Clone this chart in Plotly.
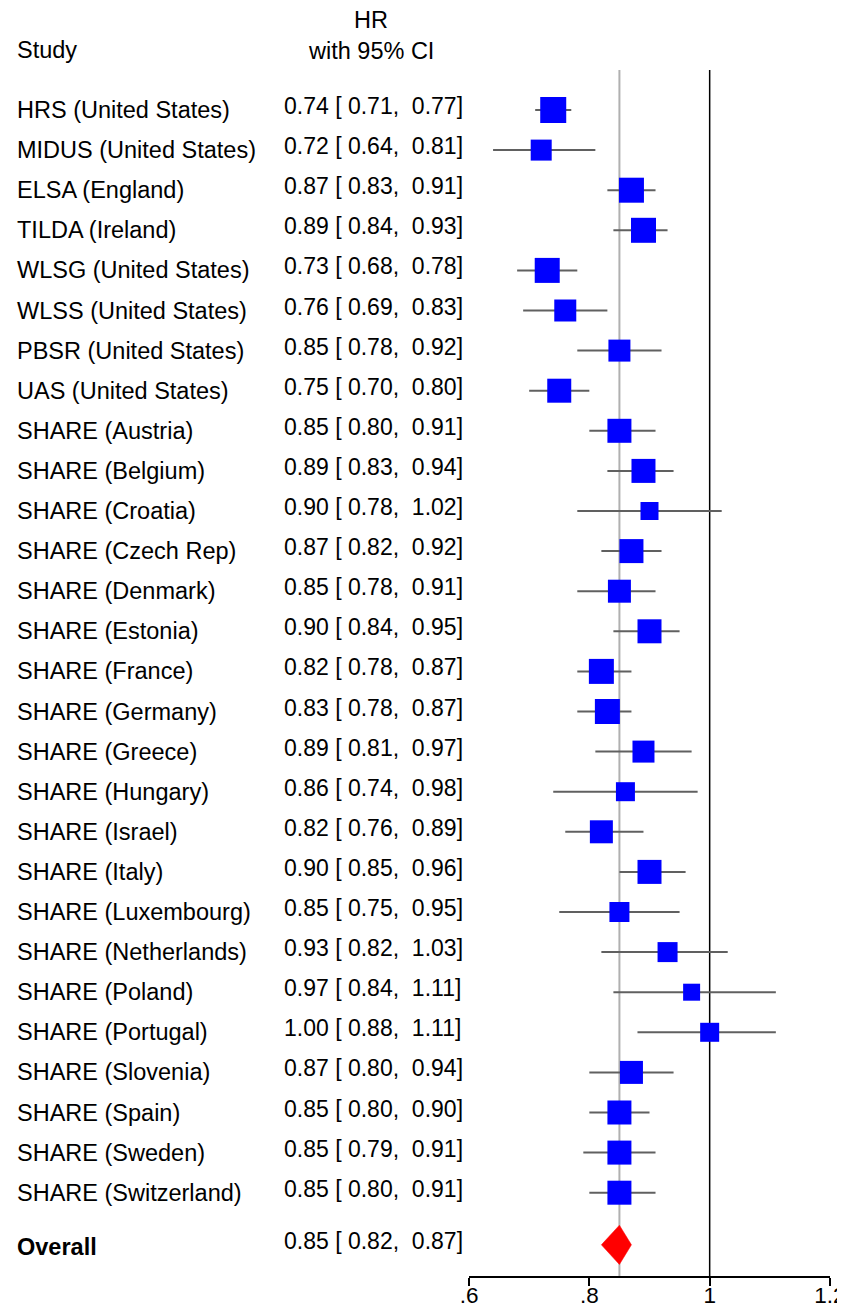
import plotly.graph_objects as go

studies = ["HRS (United States)", "MIDUS (United States)", "ELSA (England)", "TILDA (Ireland)",
           "WLSG (United States)", "WLSS (United States)", "PBSR (United States)", "UAS (United States)",
           "SHARE (Austria)", "SHARE (Belgium)", "SHARE (Croatia)", "SHARE (Czech Rep)",
           "SHARE (Denmark)", "SHARE (Estonia)", "SHARE (France)", "SHARE (Germany)",
           "SHARE (Greece)", "SHARE (Hungary)", "SHARE (Israel)", "SHARE (Italy)",
           "SHARE (Luxembourg)", "SHARE (Netherlands)", "SHARE (Poland)", "SHARE (Portugal)",
           "SHARE (Slovenia)", "SHARE (Spain)", "SHARE (Sweden)", "SHARE (Switzerland)"]
hr = [0.74, 0.72, 0.87, 0.89, 0.73, 0.76, 0.85, 0.75, 0.85, 0.89, 0.90, 0.87, 0.85, 0.90,
      0.82, 0.83, 0.89, 0.86, 0.82, 0.90, 0.85, 0.93, 0.97, 1.00, 0.87, 0.85, 0.85, 0.85]
lower = [0.71, 0.64, 0.83, 0.84, 0.68, 0.69, 0.78, 0.70, 0.80, 0.83, 0.78, 0.82, 0.78, 0.84,
         0.78, 0.78, 0.81, 0.74, 0.76, 0.85, 0.75, 0.82, 0.84, 0.88, 0.80, 0.80, 0.79, 0.80]
upper = [0.77, 0.81, 0.91, 0.93, 0.78, 0.83, 0.92, 0.80, 0.91, 0.94, 1.02, 0.92, 0.91, 0.95,
         0.87, 0.87, 0.97, 0.98, 0.89, 0.96, 0.95, 1.03, 1.11, 1.11, 0.94, 0.90, 0.91, 0.91]
# marker (weight) sizes in px
weights = [26, 21, 25, 25, 25, 22, 22, 24, 24, 24, 18, 24, 23, 24, 25, 25, 22, 19, 23, 24,
           20, 20, 17, 19, 23, 24, 24, 24]
overall_label = "Overall"
overall_hr, overall_lo, overall_hi = 0.85, 0.82, 0.87

tick_vals = [0.6, 0.8, 1.0, 1.2]
tick_text = [".6", ".8", "1", "1.2"]

OFF = 8                      # page body margin
W, H = 845, 1309 - OFF
FONT = "Liberation Sans, Arial, sans-serif"
FS = 23.5
FS_VAL = 23


def px_x(p):
    return (p - OFF) / W


def px_y(p):
    return 1 - (p - OFF) / H


n = len(studies)
rows = list(range(n))
overall_row = n + 0.3


def fmt(e, l, u):
    s = f"{e:.2f} [{l:5.2f}, {u:5.2f}]"
    return s.replace(" ", "\u00a0")


fig = go.Figure()

# CI lines
cx, cy = [], []
for r, l, u in zip(rows, lower, upper):
    cx += [l, u, None]
    cy += [r, r, None]
fig.add_trace(go.Scatter(x=cx, y=cy, mode="lines", line=dict(color="#606060", width=2),
                         hoverinfo="skip", showlegend=False))

# squares
fig.add_trace(go.Scatter(x=hr, y=rows, mode="markers",
                         marker=dict(symbol="square", size=weights, color="#0000ff", opacity=1,
                                     line=dict(width=0)),
                         showlegend=False))

# overall diamond
dh = 0.49
fig.add_trace(go.Scatter(x=[overall_lo, overall_hr, overall_hi, overall_hr, overall_lo],
                         y=[overall_row, overall_row - dh, overall_row, overall_row + dh, overall_row],
                         mode="lines", fill="toself", fillcolor="#ff0000",
                         line=dict(color="#ff0000", width=0.5), showlegend=False))

# reference lines
fig.add_shape(type="line", x0=overall_hr, x1=overall_hr, xref="x", yref="y domain", y0=0, y1=1,
              line=dict(color="#b0b0b0", width=2), layer="below")
fig.add_shape(type="line", x0=1, x1=1, xref="x", yref="y domain", y0=0, y1=1,
              line=dict(color="#000000", width=1.5), layer="below")

tf = dict(family=FONT, size=FS, color="black")
vf = dict(family=FONT, size=FS_VAL, color="black")
ann = []
for r, s, e, l, u in zip(rows, studies, hr, lower, upper):
    ann.append(dict(x=px_x(15), xref="paper", y=r, yref="y", text=s, showarrow=False,
                    xanchor="left", yanchor="middle", font=tf))
    ann.append(dict(x=px_x(282), xref="paper", y=r, yref="y", text=fmt(e, l, u), showarrow=False,
                    xanchor="left", yanchor="middle", yshift=4, font=vf))
ann.append(dict(x=px_x(15), xref="paper", y=overall_row, yref="y", text=f"<b>{overall_label}</b>",
                showarrow=False, xanchor="left", yanchor="middle", yshift=-2, font=tf))
ann.append(dict(x=px_x(282), xref="paper", y=overall_row, yref="y",
                text=fmt(overall_hr, overall_lo, overall_hi), showarrow=False,
                xanchor="left", yanchor="middle", yshift=4, font=vf))
# headers
ann.append(dict(x=px_x(15), xref="paper", y=px_y(50), yref="paper", text="Study", showarrow=False,
                xanchor="left", yanchor="middle", font=tf))
ann.append(dict(x=px_x(371), xref="paper", y=px_y(20), yref="paper", text="HR", showarrow=False,
                xanchor="center", yanchor="middle", font=tf))
ann.append(dict(x=px_x(371), xref="paper", y=px_y(51), yref="paper", text="with 95% CI",
                showarrow=False, xanchor="center", yanchor="middle", font=tf))

y_top_px, y_bot_px, row0_px, pitch = 70, 1276, 110, 40.1

fig.update_layout(
    width=W, height=H,
    margin=dict(l=0, r=0, t=0, b=0, autoexpand=False),
    paper_bgcolor="white", plot_bgcolor="white",
    showlegend=False,
    annotations=ann,
    xaxis=dict(domain=[px_x(469), px_x(830)], range=[0.6, 1.2], tickvals=tick_vals, ticktext=tick_text,
               showline=True, linecolor="black", linewidth=1.5, ticks="outside", ticklen=8,
               tickwidth=1.5, tickcolor="black", showgrid=False, zeroline=False,
               ticklabelstandoff=-10, ticklabeloverflow="allow",
               tickfont=dict(family=FONT, size=22.5, color="black")),
    yaxis=dict(domain=[px_y(y_bot_px), px_y(y_top_px)],
               range=[(y_bot_px - row0_px) / pitch, (y_top_px - row0_px) / pitch],
               visible=False, showgrid=False, zeroline=False),
)

fig.write_html("out.html")
